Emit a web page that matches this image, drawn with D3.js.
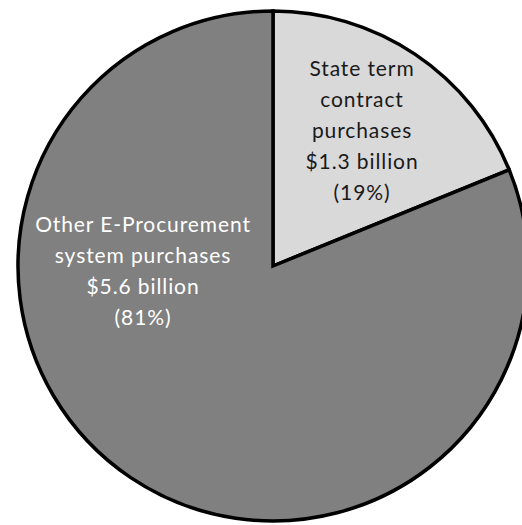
<!DOCTYPE html>
<html><head><meta charset="utf-8">
<script src="https://cdn.jsdelivr.net/npm/d3@7"></script>
<style>body{margin:0;background:#fff}svg{display:block}</style>
</head><body>
<svg id="c" width="522" height="525"></svg>
<script>
const categories = ["State term contract purchases", "Other E-Procurement system purchases"];
const values = [1.3, 5.6];
const percents = ["19%", "81%"];
const labelLines = [
  ["State term", "contract", "purchases", "$1.3 billion", "(19%)"],
  ["Other E-Procurement", "system purchases", "$5.6 billion", "(81%)"]
];
const colors = ["#d9d9d9", "#808080"];
const textColors = ["#1a1a1a", "#ffffff"];

const svg = d3.select("#c");
const cx = 273, cy = 266, r = 255;
const g = svg.append("g").attr("transform", `translate(${cx},${cy})`);
const pie = d3.pie().sort(null).value(d => d)(values);
const arc = d3.arc().innerRadius(0).outerRadius(r);
g.selectAll("path").data(pie).join("path")
  .attr("d", arc).attr("fill", (d,i)=>colors[i])
  .attr("stroke", "#000").attr("stroke-width", 3.5).attr("stroke-linejoin","miter");

const labelPos = [[89, -190], [-130, -34]];
labelLines.forEach((lines, i) => {
  const t = g.append("text").attr("text-anchor","middle")
    .attr("font-family","Lato, 'Open Sans', sans-serif").attr("font-size",21)
    .attr("letter-spacing","0.9px")
    .attr("fill", textColors[i]);
  lines.forEach((l, j) => {
    t.append("tspan").attr("x", labelPos[i][0]).attr("y", labelPos[i][1] + j*31).text(l);
  });
});
</script>
</body></html>
